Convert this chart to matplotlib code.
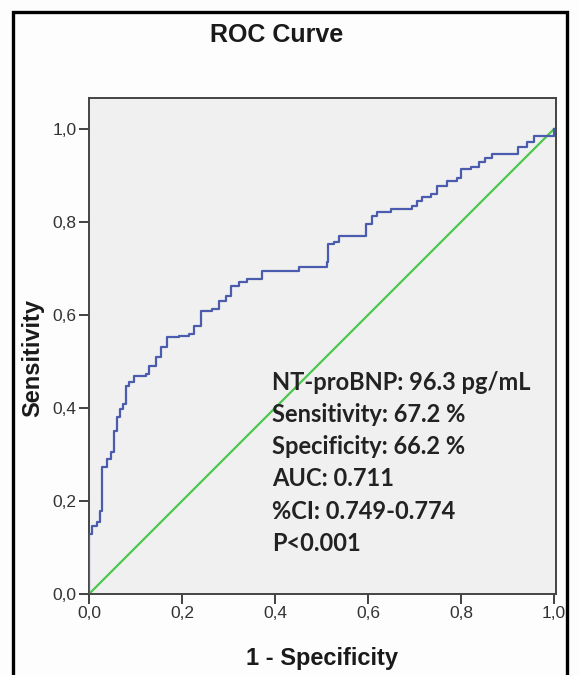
import matplotlib.pyplot as plt
from matplotlib.patches import Rectangle

# ROC curve vertices (1 - specificity, sensitivity)
fpr = [0.0, 0.0, 0.006, 0.017, 0.024, 0.028, 0.039, 0.047, 0.053, 0.060,
       0.067, 0.074, 0.080, 0.086, 0.097, 0.122, 0.129, 0.144, 0.155, 0.168,
       0.194, 0.215, 0.225, 0.241, 0.265, 0.280, 0.294, 0.305, 0.323, 0.340,
       0.372, 0.452, 0.512, 0.514, 0.527, 0.538, 0.596, 0.609, 0.619, 0.649,
       0.695, 0.705, 0.716, 0.735, 0.748, 0.770, 0.791, 0.800, 0.822, 0.839,
       0.852, 0.867, 0.922, 0.942, 0.957, 1.0]
tpr = [0.0, 0.129, 0.146, 0.155, 0.178, 0.273, 0.290, 0.305, 0.350, 0.380,
       0.398, 0.408, 0.447, 0.456, 0.469, 0.473, 0.490, 0.510, 0.531, 0.553,
       0.555, 0.559, 0.576, 0.609, 0.613, 0.630, 0.641, 0.662, 0.671, 0.677,
       0.695, 0.703, 0.714, 0.753, 0.757, 0.770, 0.796, 0.813, 0.821, 0.828,
       0.835, 0.845, 0.854, 0.860, 0.877, 0.888, 0.894, 0.914, 0.918, 0.929,
       0.938, 0.946, 0.961, 0.972, 0.985, 1.0]
ref_line = [0.0, 1.0]

tick_vals = [0.0, 0.2, 0.4, 0.6, 0.8, 1.0]
tick_labels = ['0,0', '0,2', '0,4', '0,6', '0,8', '1,0']

stats = ['NT-proBNP: 96.3 pg/mL',
         'Sensitivity: 67.2 %',
         'Specificity: 66.2 %',
         'AUC: 0.711',
         '%CI: 0.749-0.774',
         'P<0.001']

W, H = 579, 675
fig = plt.figure(figsize=(W / 100, H / 100), dpi=100, facecolor='#fdfdfd')
ax = fig.add_axes([89 / W, 1 - 594 / H, (556 - 89) / W, (594 - 98) / H])
ax.set_facecolor('#f0f0f0')

ax.plot(fpr, tpr, drawstyle='steps-post', color='#4b5cae', lw=1.6, zorder=3)
ax.plot(ref_line, ref_line, color='#4cc84c', lw=1.6, zorder=2)

ax.set_xlim(0, 467 / 465)
ax.set_ylim(0, 496 / 465)
ax.set_xticks(tick_vals)
ax.set_xticklabels(tick_labels)
ax.set_yticks(tick_vals)
ax.set_yticklabels(tick_labels)
ax.tick_params(direction='out', length=7, width=1.3, color='#333333',
               labelsize=12.5, labelcolor='#333333', pad=2)
for s in ax.spines.values():
    s.set_color('#444444')
    s.set_linewidth(1.4)

lab_font = dict(family='Liberation Sans', fontweight='bold', color='#1a1a1a')
for lbl in ax.get_xticklabels() + ax.get_yticklabels():
    lbl.set_family('Liberation Sans')
fig.text(33 / W, 1 - 358 / H, 'Sensitivity', ha='center', va='center',
         rotation=90, fontsize=17, **lab_font)
fig.text(322 / W, 1 - 658 / H, '1 - Specificity', ha='center', va='center',
         fontsize=17, **lab_font)
fig.text(277 / W, 1 - 35 / H, 'ROC Curve', ha='center', va='center',
         fontsize=18, **lab_font)

y = 382
for line in stats:
    fig.text(272 / W, 1 - y / H, line, ha='left', va='center', fontsize=17,
             family='Lato', fontweight='bold', color='#222222')
    y += 32.3

# outer frame (bottom edge cut off by image)
fig.patches.append(Rectangle((13 / W, -0.05), (567 - 13) / W, 1.05 - 12 / H,
                             transform=fig.transFigure, fill=False,
                             ec='black', lw=2.4))

fig.savefig('out.png', dpi=100, facecolor=fig.get_facecolor())
